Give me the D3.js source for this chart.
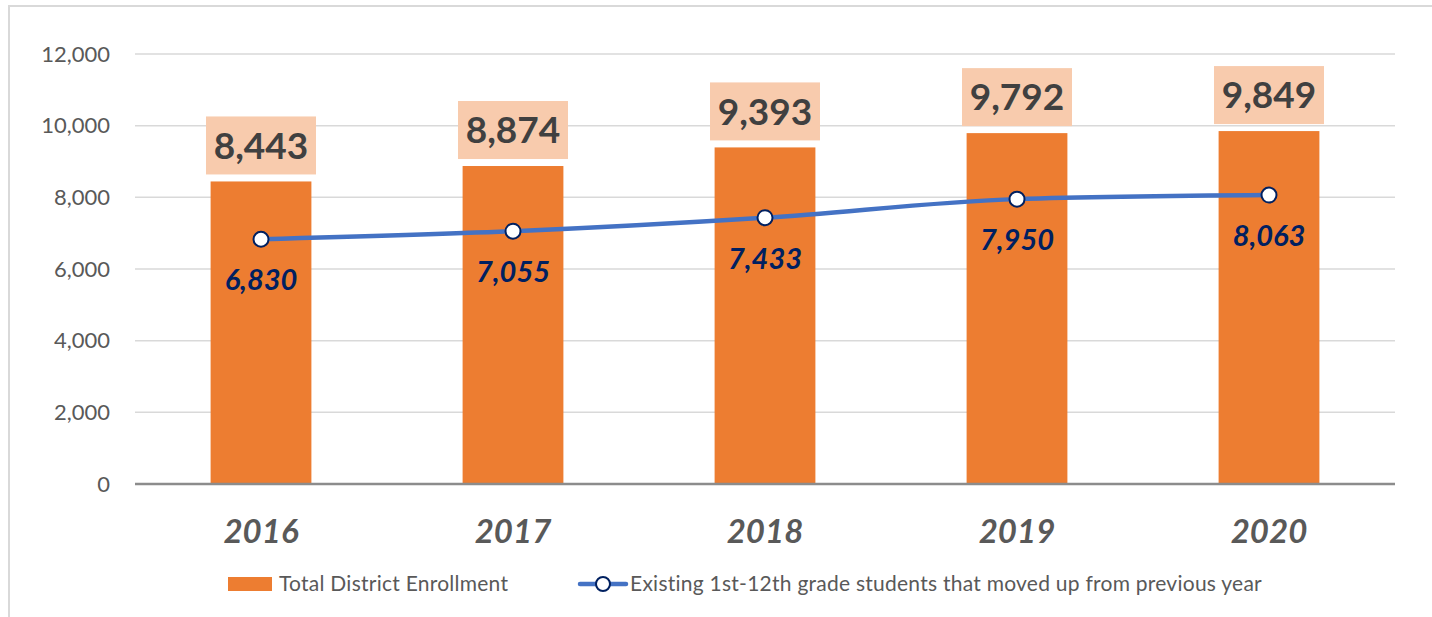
<!DOCTYPE html>
<html><head><meta charset="utf-8">
<script src="https://cdn.jsdelivr.net/npm/d3@7"></script>
<style>
html,body{margin:0;padding:0;background:#fff;}
svg{display:block;font-family:Lato,"Noto Sans",sans-serif;}
</style></head>
<body>
<svg id="chart" width="1432" height="617"></svg>
<script>
const years = ["2016","2017","2018","2019","2020"];
const enrollment = [8443, 8874, 9393, 9792, 9849];
const movedUp = [6830, 7055, 7433, 7950, 8063];
const yTicks = [0, 2000, 4000, 6000, 8000, 10000, 12000];
const seriesNames = ["Total District Enrollment", "Existing 1st-12th grade students that moved up from previous year"];

const svg = d3.select("#chart");
const W = 1432, H = 617;
const m = {left:135, right:1395, top:54, bottom:484};

// outer chart border
svg.append("rect").attr("x",9).attr("y",6).attr("width",W+20).attr("height",H+20)
  .attr("fill","#fff").attr("stroke","#d9d9d9").attr("stroke-width",2);

const x = d3.scaleBand().domain(years).range([m.left, m.right]).paddingInner(0.6).paddingOuter(0.3);
const y = d3.scaleLinear().domain([0, 12000]).range([m.bottom, m.top]);
const fmt = d3.format(",");

// gridlines
svg.append("g").selectAll("line").data(yTicks.filter(d=>d>0)).join("line")
  .attr("x1", m.left).attr("x2", m.right)
  .attr("y1", d=>y(d)).attr("y2", d=>y(d))
  .attr("stroke","#d9d9d9").attr("stroke-width",1.5);

// y axis labels
const yAxis = d3.axisLeft(y).tickValues(yTicks).tickFormat(fmt).tickSize(0).tickPadding(25);
const ya = svg.append("g").attr("transform",`translate(${m.left},0)`).call(yAxis);
ya.select(".domain").remove();
ya.selectAll("text").attr("font-size",22).attr("fill","#595959").attr("font-family","Lato,'Noto Sans',sans-serif");

// bars
svg.append("g").selectAll("rect").data(years).join("rect")
  .attr("x", d=>x(d)).attr("width", x.bandwidth())
  .attr("y", (d,i)=>y(enrollment[i])).attr("height",(d,i)=>m.bottom - y(enrollment[i]))
  .attr("fill","#ED7D31");

// x axis baseline
const xAxis = d3.axisBottom(x).tickSize(0).tickPadding(30);
const xa = svg.append("g").attr("transform",`translate(0,${m.bottom})`).call(xAxis);
xa.select(".domain").attr("stroke","#8c8c8c").attr("stroke-width",2.5).attr("d",`M${m.left},0H${m.right}`);
xa.selectAll("text").attr("font-size",33).attr("font-weight","bold").attr("font-style","italic")
  .attr("fill","#595959").attr("dy","0.35em").attr("y",47).attr("font-family","Lato,'Noto Sans',sans-serif");

// bar labels with boxes
const bl = svg.append("g").selectAll("g").data(years).join("g")
  .attr("transform",(d,i)=>`translate(${x(d)+x.bandwidth()/2},${y(enrollment[i])-36})`);
bl.append("rect").attr("x",-55).attr("y",-29).attr("width",110).attr("height",58).attr("fill","#F8CBAD");
bl.append("text").text((d,i)=>fmt(enrollment[i])).attr("text-anchor","middle").attr("dy","0.36em")
  .attr("font-size",37).attr("font-weight","bold").attr("fill","#404040");

// line
const line = d3.line().x((d,i)=>x(years[i])+x.bandwidth()/2).y(d=>y(d)).curve(d3.curveMonotoneX);
svg.append("path").datum(movedUp).attr("d",line).attr("fill","none")
  .attr("stroke","#4472C4").attr("stroke-width",4.5).attr("stroke-linecap","round");
svg.append("g").selectAll("circle").data(movedUp).join("circle")
  .attr("cx",(d,i)=>x(years[i])+x.bandwidth()/2).attr("cy",d=>y(d)).attr("r",7.5)
  .attr("fill","#fff").attr("stroke","#002060").attr("stroke-width",2);
svg.append("g").selectAll("text").data(movedUp).join("text")
  .attr("x",(d,i)=>x(years[i])+x.bandwidth()/2).attr("y",d=>y(d)+41)
  .attr("text-anchor","middle").attr("dy","0.35em")
  .attr("font-size",29).attr("font-weight","bold").attr("font-style","italic").attr("fill","#002060")
  .text(d=>fmt(d));

// legend
const lg = svg.append("g").attr("transform","translate(0,584)");
lg.append("rect").attr("x",228).attr("y",-7).attr("width",44).attr("height",14).attr("fill","#ED7D31");
lg.append("text").attr("x",279).attr("y",0).attr("dy","0.35em").attr("font-size",21).attr("letter-spacing",0.25).attr("fill","#595959")
  .attr("font-family","Lato,'Noto Sans',sans-serif").text(seriesNames[0]);
lg.append("line").attr("x1",580).attr("x2",626).attr("y1",0).attr("y2",0).attr("stroke","#4472C4").attr("stroke-width",4.5).attr("stroke-linecap","round");
lg.append("circle").attr("cx",603).attr("cy",0).attr("r",7).attr("fill","#fff").attr("stroke","#002060").attr("stroke-width",2);
lg.append("text").attr("x",630).attr("y",0).attr("dy","0.35em").attr("font-size",21).attr("letter-spacing",0.25).attr("fill","#595959")
  .attr("font-family","Lato,'Noto Sans',sans-serif").text(seriesNames[1]);
</script>
</body></html>
